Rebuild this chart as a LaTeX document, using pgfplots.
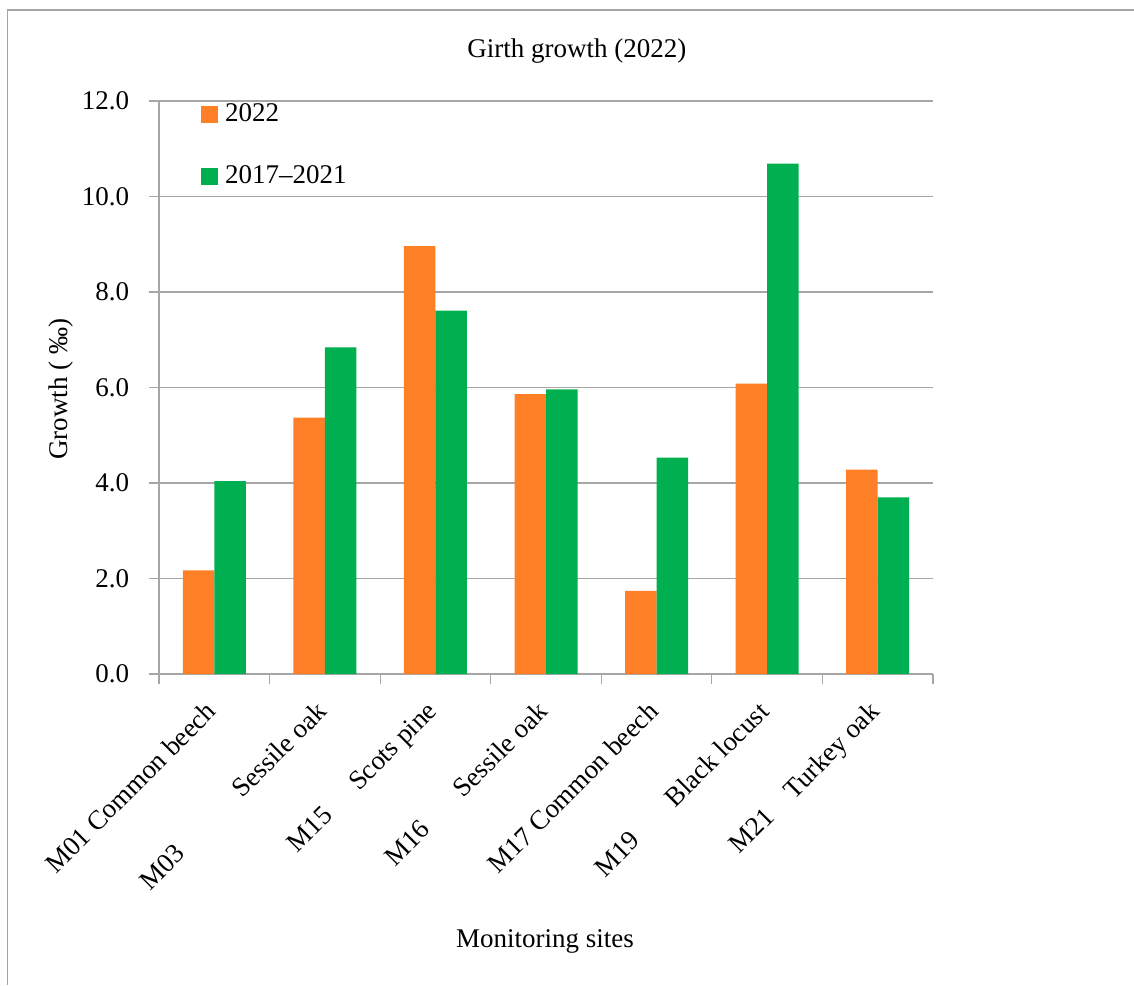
\documentclass[border=0pt]{standalone}
\usepackage{fontspec}
\setmainfont{Liberation Serif}
\usepackage{pgfplots}
\pgfplotsset{compat=1.18}
\definecolor{barorange}{RGB}{255,127,39}
\definecolor{bargreen}{RGB}{0,176,80}
\definecolor{gridgray}{RGB}{166,166,166}
\newcommand{\chartfont}{\fontsize{13.5}{16.2}\selectfont}
\begin{document}
\chartfont
\begin{tikzpicture}
\useasboundingbox (0,0) rectangle (567pt,-492.5pt);
\draw[gridgray, line width=0.6pt] (3.6pt,-492.5pt) -- (3.6pt,-5pt) -- (567pt,-5pt);
\begin{axis}[
  at={(79.5pt,-337pt)}, anchor=south west,
  scale only axis, width=387pt, height=286.5pt,
  ymin=0, ymax=12, ytick={0,2,4,6,8,10,12},
  xmin=-0.5, xmax=6.5,
  ybar=0pt, bar width=15.75pt,
  axis x line*=bottom, axis y line*=left,
  axis line style={-, gridgray, line width=0.6pt},
  tick style={gridgray, line width=0.6pt},
  tick align=outside, major tick length=4.75pt,
  ymajorgrids, grid style={gridgray, line width=0.6pt},
  xtick={-0.5,0.5,1.5,2.5,3.5,4.5,5.5,6.5},
  x tick label as interval,
  xticklabels={M01 Common beech, M03\hspace{40pt}Sessile oak, M15\hspace{18pt}Scots pine, M16\hspace{23pt}Sessile oak, M17 Common beech, M19\hspace{24pt}Black locust, M21\hspace{13pt}Turkey oak},
  xticklabel style={xshift=-5pt, yshift=-8pt, rotate=45, anchor=north east, inner sep=0pt, font=\chartfont},
  yticklabel style={/pgf/number format/.cd, fixed, fixed zerofill, precision=1, /pgf/number format/assume math mode=true, /tikz/.cd, xshift=-5.5pt, font=\chartfont},
  title={Girth growth (2022)},
  title style={at={(axis description cs:0.540,1.0664)}, anchor=center, font=\chartfont},
  xlabel={Monitoring sites},
  xlabel style={at={(axis description cs:0.4987,-0.467)}, anchor=center, font=\chartfont},
  ylabel={Growth ( ‰)},
  ylabel style={at={(axis description cs:-0.127,0.497)}, anchor=center, font=\chartfont},
  legend style={at={(axis description cs:0.054,1.003)}, anchor=north west, draw=none, fill=none, row sep=16pt, font=\chartfont, inner sep=0pt, nodes={inner xsep=3.5pt}},
  legend cell align=left,
  every axis plot post/.append style={legend image code/.code={\fill[##1] (0pt,-4.25pt) rectangle (8.5pt,4.25pt);}},
]
\addplot[fill=barorange, draw=none] coordinates {(0,2.17) (1,5.37) (2,8.96) (3,5.86) (4,1.74) (5,6.08) (6,4.28)};
\addplot[fill=bargreen, draw=none] coordinates {(0,4.04) (1,6.84) (2,7.61) (3,5.96) (4,4.53) (5,10.69) (6,3.70)};
\legend{2022, 2017--2021}
\end{axis}
\end{tikzpicture}
\end{document}
